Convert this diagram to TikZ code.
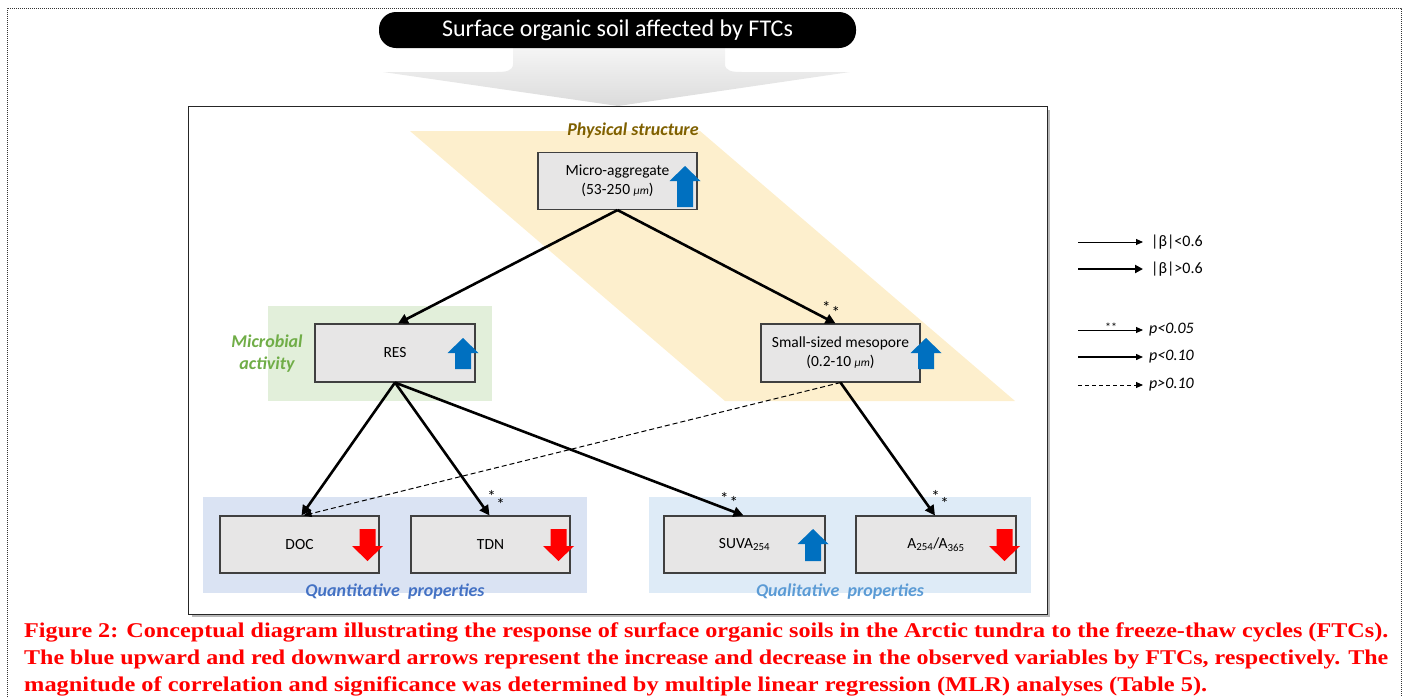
\documentclass[tikz,border=0pt]{standalone}
\usepackage{fontspec}
\setmainfont{Carlito}
\newfontfamily\capfont{Liberation Serif}
\usetikzlibrary{arrows.meta}
\definecolor{boxfill}{RGB}{231,230,230}
\definecolor{boxline}{RGB}{64,64,64}
\definecolor{phys}{RGB}{253,239,205}
\definecolor{physt}{RGB}{127,96,0}
\definecolor{microbg}{RGB}{226,239,218}
\definecolor{microt}{RGB}{112,173,71}
\definecolor{quantbg}{RGB}{218,227,243}
\definecolor{quantt}{RGB}{68,114,196}
\definecolor{qualbg}{RGB}{222,235,247}
\definecolor{qualt}{RGB}{91,155,213}
\definecolor{upblue}{RGB}{0,112,192}
\definecolor{downred}{RGB}{255,0,0}
\definecolor{capred}{RGB}{255,0,0}
\newcommand\blockup[4]{\fill[#4] (#1,#2) -- ++(15.5,15) -- ++(-7.5,0) -- ++(0,#3-15) -- ++(-16,0) -- ++(0,15-#3) -- ++(-7.5,0) -- cycle;}
\newcommand\blockdown[4]{\fill[#4] (#1,#2) -- ++(15.5,-15) -- ++(-7.5,0) -- ++(0,15-#3) -- ++(-16,0) -- ++(0,#3-15) -- ++(-7.5,0) -- cycle;}
\newcommand\mum{{\fontsize{11.5}{11.5}\selectfont\itshape μm}}
\newcommand\starpair[2]{*\hspace{#1}\raisebox{#2}{*}}
\tikzset{
  varbox/.style={draw=boxline, line width=1.1pt, fill=boxfill, minimum width=159pt, minimum height=57pt, inner sep=0pt, align=center, font=\fontsize{15.5}{19}\selectfont},
  link/.style={line width=2.6pt, -{Triangle[length=10pt,width=10pt]}},
  weaklink/.style={line width=1pt, dash pattern=on 5pt off 3pt, -{Triangle[length=8pt,width=7pt]}},
  grouplbl/.style={font=\fontsize{18}{22}\selectfont\bfseries\itshape, align=center, inner sep=0pt},
  star/.style={font=\fontsize{17}{17}\selectfont, inner sep=0pt},
  legtxt/.style={anchor=west, font=\fontsize{16}{18}\selectfont, inner sep=0pt},
  legthin/.style={line width=0.9pt, -{Triangle[length=7pt,width=6pt]}},
  legthick/.style={line width=2.6pt, -{Triangle[length=8pt,width=8pt]}},
  legdash/.style={line width=0.9pt, dash pattern=on 4pt off 3pt, -{Triangle[length=7pt,width=6pt]}},
  capline/.style={anchor=base west, inner sep=0pt, text=capred, font=\capfont\bfseries\fontsize{21}{21}\selectfont}
}
\begin{document}
\begin{tikzpicture}[x=1pt,y=-1pt]
\useasboundingbox (0,0) rectangle (1407,697);
% outer dotted border
\draw[line width=0.8pt, dash pattern=on 1pt off 1pt, black!80] (7,697) -- (7,8) -- (1401,8) -- (1401,697);
% funnel
\shade[top color=gray!8, bottom color=gray!28] (513,48) -- (513,64) .. controls (513,71) and (506,72) .. (496,72) -- (383,72) -- (618,106) -- (850,72) -- (742,72) .. controls (732,72) and (725,71) .. (725,64) -- (725,48) -- cycle;
% title
\node[fill=black, rounded corners=17pt, minimum width=477pt, minimum height=36pt, inner sep=0pt, text=white, font=\fontsize{24}{24}\selectfont] (title) at (617.5,30) {Surface organic soil affected by FTCs};
% main frame
\draw[gray!55, line width=1.6pt] (1049,110) -- (1049,616) -- (192,616);
\draw[line width=1pt, black!85] (188,106) rectangle (1047,614);
% group backgrounds
\fill[phys] (410,131) -- (700,131) -- (1015,401) -- (725,401) -- cycle;
\fill[microbg] (268,306) rectangle (492,401);
\fill[quantbg] (203,497) rectangle (587,593);
\fill[qualbg] (649,497) rectangle (1031,593);
% group labels
\node[grouplbl, text=physt] (physlbl) at (633,131) {Physical structure};
\node[grouplbl, text=microt] (microlbl) at (267,354) {Microbial\\activity};
\node[grouplbl, text=quantt] (quantlbl) at (395,592) {Quantitative\ \ properties};
\node[grouplbl, text=qualt] (quallbl) at (840,592) {Qualitative\ \ properties};
% boxes
\node[varbox] (micro) at (617.5,181) {Micro-aggregate\\(53-250 \mum)};
\node[varbox, minimum width=160pt, minimum height=58pt] (res) at (395,353) {RES};
\node[varbox, minimum height=58pt] (meso) at (840.5,353) {Small-sized mesopore\\(0.2-10 \mum)};
\node[varbox] (doc) at (299.5,544.5) {DOC};
\node[varbox] (tdn) at (490.5,544.5) {TDN};
\node[varbox, minimum width=161pt] (suva) at (744.5,544.5) {SUVA\textsubscript{254}};
\node[varbox, minimum width=160pt] (a254) at (936,544.5) {A\textsubscript{254}/A\textsubscript{365}};
% block arrows
\blockup{685}{166}{41}{upblue}
\blockup{463}{338}{31}{upblue}
\blockup{926}{338}{31}{upblue}
\blockup{813}{529}{32}{upblue}
\blockdown{367.5}{561}{32}{downred}
\blockdown{558.5}{561}{32}{downred}
\blockdown{1004.5}{561}{32}{downred}
% connectors
\draw[link] (micro.south) -- ([xshift=3pt]res.north);
\draw[link] (micro.south) -- ([xshift=-5pt]meso.north);
\draw[link] (res.south) -- ([xshift=2pt]doc.north);
\draw[link] (res.south) -- ([xshift=-1pt]tdn.north);
\draw[link] (res.south) -- ([xshift=-1pt]suva.north);
\draw[link] (meso.south) -- ([xshift=-1pt]a254.north);
\draw[weaklink] (meso.south) -- ([xshift=4pt]doc.north);
% significance stars
\node[star] (s1) at (831,310) {\starpair{1pt}{-5pt}};
\node[star] (s2) at (496,500) {\starpair{0.5pt}{-8pt}};
\node[star] (s3) at (729,500) {\starpair{1pt}{-4pt}};
\node[star] (s4) at (940,500) {\starpair{0.5pt}{-7pt}};
% legend
\coordinate (la1) at (1078,242); \coordinate (lb1) at (1143,242);
\coordinate (la2) at (1078,269); \coordinate (lb2) at (1143,269);
\coordinate (la3) at (1078,330); \coordinate (lb3) at (1143,330);
\coordinate (la4) at (1078,357); \coordinate (lb4) at (1143,357);
\coordinate (la5) at (1078,385); \coordinate (lb5) at (1143,385);
\draw[legthin] (la1) -- (lb1);
\draw[legthick] (la2) -- (lb2);
\draw[legthin] (la3) -- (lb3);
\draw[legthin, line width=1.4pt] (la4) -- (lb4);
\draw[legdash] (la5) -- (lb5);
\node[legtxt] (lt1) at (1151,242) {|β|<0.6};
\node[legtxt] (lt2) at (1151,269) {|β|>0.6};
\node[legtxt] (lt3) at (1149,330) {\textit{p<0.05}};
\node[legtxt] (lt4) at (1149,357) {\textit{p<0.10}};
\node[legtxt] (lt5) at (1149,385) {\textit{p>0.10}};
\node[inner sep=0pt, font=\fontsize{12}{12}\selectfont] (lstar) at (1111,327) {**};
% caption
\node[capline] (cap1) at (24,637) {\resizebox{1364pt}{\height}{Figure 2: Conceptual diagram illustrating the response of surface organic soils in the Arctic tundra to the freeze-thaw cycles (FTCs).}};
\node[capline] (cap2) at (24,664) {\resizebox{1364pt}{\height}{The blue upward and red downward arrows represent the increase and decrease in the observed variables by FTCs, respectively. The}};
\node[capline] (cap3) at (24,691) {\resizebox{1183pt}{\height}{magnitude of correlation and significance was determined by multiple linear regression (MLR) analyses (Table 5).}};
\end{tikzpicture}
\end{document}
